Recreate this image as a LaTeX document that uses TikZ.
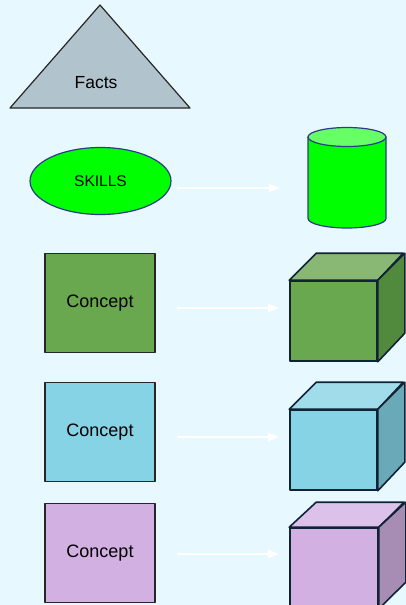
\documentclass[tikz,border=0pt]{standalone}
\usepackage{fontspec}
\setmainfont{Liberation Sans}
\usepackage{xcolor}
\usetikzlibrary{arrows.meta,shapes.geometric,calc}

\definecolor{bgblue}{HTML}{E8F8FF}
\definecolor{factgray}{HTML}{B1C3CD}
\definecolor{skillgreen}{HTML}{00FF00}
\definecolor{cyltop}{HTML}{66FF66}
\definecolor{rimblue}{HTML}{2E3A8C}
\definecolor{edgedark}{HTML}{102236}
\definecolor{cgreen}{HTML}{6AA84F}
\definecolor{cgreentop}{HTML}{88B873}
\definecolor{cgreenside}{HTML}{518A3D}
\definecolor{cblue}{HTML}{87D3E6}
\definecolor{cbluetop}{HTML}{A1DCEA}
\definecolor{cblueside}{HTML}{6AA9B7}
\definecolor{cpurple}{HTML}{D2B0E1}
\definecolor{cpurpletop}{HTML}{DCC2EA}
\definecolor{cpurpleside}{HTML}{A78CB3}

\tikzset{
  conceptbox/.style={draw=black!85,line width=1.2pt,minimum width=110,minimum height=99,inner sep=0pt,font=\fontsize{18}{20}\selectfont},
  cubefront/.style={draw=edgedark,line width=1.6pt,minimum width=87,minimum height=80,inner sep=0pt},
  cubeface/.style={draw=edgedark,line width=1.6pt,line join=round},
  flow/.style={white,line width=1.8pt,-{Triangle[length=11pt,width=8pt]}}
}

\begin{document}
\begin{tikzpicture}[line cap=round,line join=round,x=1pt,y=-1pt]
  \fill[bgblue] (0,0) rectangle (406,605);
  \clip (0,0) rectangle (406,605);

  % facts
  \coordinate (apex) at (100,5);
  \coordinate (bl) at (10,108);
  \coordinate (br) at (190,108);
  \draw[fill=factgray,draw=black!85,line width=1.2pt] (apex) -- (bl) -- (br) -- cycle;
  \node[font=\fontsize{17.5}{20}\selectfont] (facts) at (96,83) {Facts};

  % skills
  \node[ellipse,draw=rimblue,fill=skillgreen,line width=1.2pt,minimum width=141,minimum height=67,inner sep=0pt,font=\fontsize{15.5}{18}\selectfont] (skills) at (100.5,181) {SKILLS};
  \coordinate (db) at (347,178);
  \fill[skillgreen] (308,137) -- (308,218.5) arc[start angle=180,end angle=0,x radius=39,y radius=9.5] -- (386,137) -- cycle;
  \draw[rimblue,line width=1.2pt] (308,137) -- (308,218.5) arc[start angle=180,end angle=0,x radius=39,y radius=9.5] -- (386,137);
  \draw[rimblue,fill=cyltop,line width=1.2pt] (347,137) ellipse[x radius=39,y radius=9.5];
  \draw[flow] ([shift={(6,7)}]skills.east) -- ([shift={(-28,7)}]skills.east -| 308,0);

  % concepts
  \node[conceptbox,fill=cgreen] (c1) at (100,303) {Concept};
  \node[conceptbox,fill=cblue] (c2) at (100,432) {Concept};
  \node[conceptbox,fill=cpurple] (c3) at (100,553) {Concept};

  % cubes
  \node[cubefront,fill=cgreen] (cube1) at (333.5,321) {};
  \draw[cubeface,fill=cgreentop] (cube1.north west) -- ++(27,-27) -- ++(87,0) -- (cube1.north east) -- cycle;
  \draw[cubeface,fill=cgreenside] (cube1.north east) -- ++(27,-27) -- ++(0,80) -- (cube1.south east) -- cycle;

  \node[cubefront,fill=cblue] (cube2) at (333.5,450) {};
  \draw[cubeface,fill=cbluetop] (cube2.north west) -- ++(27,-27) -- ++(87,0) -- (cube2.north east) -- cycle;
  \draw[cubeface,fill=cblueside] (cube2.north east) -- ++(27,-27) -- ++(0,80) -- (cube2.south east) -- cycle;

  \node[cubefront,fill=cpurple,minimum width=88] (cube3) at (334,568) {};
  \draw[cubeface,fill=cpurpletop] (cube3.north west) -- ++(27,-25) -- ++(88,0) -- (cube3.north east) -- cycle;
  \draw[cubeface,fill=cpurpleside] (cube3.north east) -- ++(27,-25) -- ++(0,80) -- (cube3.south east) -- cycle;

  \draw[flow] ([shift={(22,5)}]c1.east) -- ([shift={(-10,5)}]c1.east -| cube1.west);
  \draw[flow] ([shift={(22,5)}]c2.east) -- ([shift={(-10,5)}]c2.east -| cube2.west);
  \draw[flow] ([shift={(22,1)}]c3.east) -- ([shift={(-10,1)}]c3.east -| cube3.west);
\end{tikzpicture}
\end{document}
